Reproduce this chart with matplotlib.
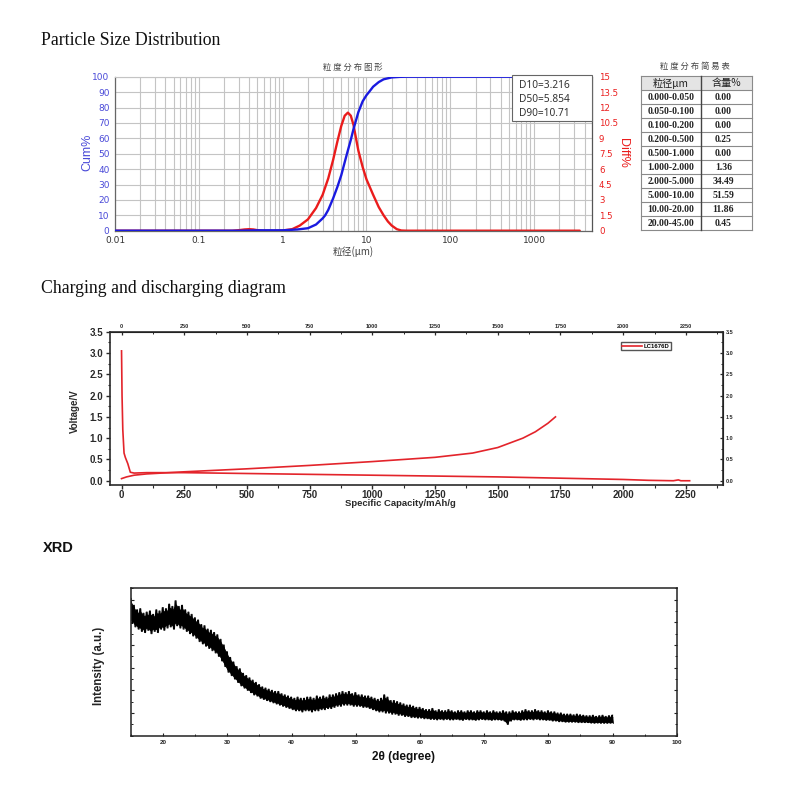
import numpy as np
import matplotlib
matplotlib.use('Agg')
import matplotlib.pyplot as plt
from matplotlib.patches import Rectangle
from matplotlib.ticker import LogLocator, MultipleLocator, NullFormatter

CJK = ['Noto Sans CJK SC', 'DejaVu Sans']
SERIF = 'Liberation Serif'
SANS = 'Liberation Sans'

# ---------------- Particle size distribution data ----------------
cum_size = [0.01, 0.1, 0.3, 0.5, 1.0, 1.5, 2.0, 2.5, 3.0, 3.216, 3.5, 4.0, 4.5, 5.0,
            5.5, 5.854, 6.5, 7.0, 8.0, 9.0, 10.0, 10.71, 12.0, 14.0, 16.0, 20.0,
            25.0, 30.0, 100.0, 3500.0]
cum_pct = [0.0, 0.0, 0.0, 0.25, 0.25, 0.8, 1.6, 4.0, 8.0, 10.0, 13.5, 21.0, 28.5, 36.0,
           44.5, 50.0, 59.0, 66.0, 77.0, 84.0, 88.0, 90.0, 93.5, 96.5, 98.3, 99.55,
           99.9, 100.0, 100.0, 100.0]
diff_size = [0.01, 0.1, 0.25, 0.3, 0.35, 0.4, 0.45, 0.5, 0.6, 0.8, 1.0, 1.3, 1.6, 2.0,
             2.5, 3.0, 3.5, 4.0, 4.5, 5.0, 5.5, 6.0, 6.5, 7.0, 7.5, 8.0, 9.0, 10.0,
             12.0, 14.0, 16.0, 18.0, 20.0, 23.0, 26.0, 30.0, 100.0, 3500.0]
diff_pct = [0.0, 0.0, 0.0, 0.05, 0.12, 0.15, 0.12, 0.05, 0.0, 0.0, 0.02, 0.15, 0.5, 1.1,
            2.2, 3.5, 5.1, 6.9, 8.7, 10.2, 11.2, 11.5, 11.2, 10.3, 9.0, 7.8, 6.2, 5.0,
            3.5, 2.3, 1.5, 0.9, 0.5, 0.15, 0.02, 0.0, 0.0, 0.0]
psd_xticks = [0.01, 0.1, 1, 10, 100, 1000]
psd_xticklabels = ['0.01', '0.1', '1', '10', '100', '1000']
d_stats = ['D10=3.216', 'D50=5.854', 'D90=10.71']
table_header = ['粒径μm', '含量%']
table_ranges = ['0.000-0.050', '0.050-0.100', '0.100-0.200', '0.200-0.500', '0.500-1.000',
                '1.000-2.000', '2.000-5.000', '5.000-10.00', '10.00-20.00', '20.00-45.00']
table_content = ['0.00', '0.00', '0.00', '0.25', '0.00', '1.36', '34.49', '51.59', '11.86', '0.45']

# ---------------- Charge / discharge data ----------------
chg_cap = [0, 20, 50, 100, 250, 500, 750, 1000, 1250, 1400, 1500, 1600, 1650, 1700, 1730]
chg_v = [0.05, 0.09, 0.13, 0.16, 0.21, 0.28, 0.36, 0.45, 0.55, 0.65, 0.78, 1.0, 1.15, 1.35, 1.5]
dis_cap = [0, 2, 5, 10, 15, 25, 35, 50, 100, 250, 500, 750, 1000, 1250, 1500, 1750, 2000,
           2100, 2200, 2220, 2230, 2265]
dis_v = [3.05, 2.0, 1.2, 0.65, 0.55, 0.4, 0.2, 0.18, 0.19, 0.19, 0.17, 0.15, 0.13, 0.11,
         0.09, 0.06, 0.03, 0.01, 0.0, 0.02, 0.0, 0.0]
cell_name = 'LC1676D'

# ---------------- XRD data (noise band extremes, 15-90 deg, 0.5 deg step) ----------------
xrd_start, xrd_stop, xrd_step = 15.0, 90.0, 0.5
xrd_lower = [4.95, 4.80, 4.70, 4.60, 4.55, 4.65, 4.50, 4.60, 4.55, 4.70,
             4.65, 4.75, 4.80, 4.70, 4.85, 4.75, 4.70, 4.60, 4.50, 4.40,
             4.30, 4.15, 4.05, 3.95, 3.85, 3.75, 3.65, 3.50, 3.30, 3.05,
             2.80, 2.65, 2.50, 2.35, 2.20, 2.10, 2.00, 1.90, 1.80, 1.75,
             1.65, 1.60, 1.55, 1.50, 1.45, 1.40, 1.35, 1.30, 1.25, 1.20,
             1.15, 1.10, 1.10, 1.05, 1.10, 1.10, 1.05, 1.10, 1.10, 1.15,
             1.15, 1.20, 1.20, 1.25, 1.30, 1.30, 1.35, 1.35, 1.35, 1.30,
             1.30, 1.30, 1.25, 1.25, 1.20, 1.15, 1.10, 1.05, 1.05, 1.00,
             1.00, 0.95, 0.95, 0.90, 0.90, 0.85, 0.85, 0.80, 0.80, 0.78,
             0.78, 0.75, 0.75, 0.72, 0.72, 0.70, 0.72, 0.70, 0.72, 0.70,
             0.70, 0.72, 0.70, 0.68, 0.72, 0.70, 0.70, 0.68, 0.70, 0.72,
             0.70, 0.70, 0.68, 0.70, 0.70, 0.68, 0.65, 0.50, 0.65, 0.70,
             0.70, 0.68, 0.70, 0.70, 0.72, 0.70, 0.72, 0.70, 0.70, 0.68,
             0.68, 0.65, 0.65, 0.62, 0.62, 0.60, 0.60, 0.60, 0.60, 0.58,
             0.58, 0.58, 0.58, 0.56, 0.55, 0.56, 0.55, 0.55, 0.55, 0.55,
             0.55]
xrd_upper = [6.05, 5.75, 5.55, 5.60, 5.40, 5.45, 5.50, 5.35, 5.55, 5.50,
             5.65, 5.60, 5.80, 5.70, 5.95, 5.70, 5.75, 5.55, 5.45, 5.35,
             5.20, 5.10, 4.90, 4.85, 4.70, 4.65, 4.55, 4.45, 4.25, 4.00,
             3.70, 3.45, 3.25, 3.05, 2.95, 2.75, 2.65, 2.55, 2.45, 2.35,
             2.25, 2.15, 2.10, 2.05, 2.00, 1.95, 1.95, 1.85, 1.80, 1.75,
             1.70, 1.65, 1.70, 1.65, 1.65, 1.70, 1.70, 1.65, 1.75, 1.70,
             1.75, 1.70, 1.80, 1.80, 1.85, 1.90, 1.95, 1.90, 1.95, 1.85,
             1.90, 1.80, 1.80, 1.75, 1.75, 1.70, 1.65, 1.60, 1.65, 1.80,
             1.70, 1.55, 1.55, 1.50, 1.45, 1.40, 1.35, 1.35, 1.30, 1.25,
             1.25, 1.20, 1.15, 1.15, 1.20, 1.10, 1.15, 1.10, 1.10, 1.15,
             1.10, 1.05, 1.10, 1.10, 1.05, 1.10, 1.10, 1.05, 1.10, 1.10,
             1.05, 1.10, 1.05, 1.10, 1.05, 1.05, 1.10, 1.05, 1.05, 1.10,
             1.05, 1.05, 1.10, 1.15, 1.10, 1.10, 1.15, 1.10, 1.10, 1.05,
             1.10, 1.05, 1.05, 1.00, 1.00, 0.95, 0.95, 0.95, 0.92, 0.95,
             0.92, 0.90, 0.88, 0.88, 0.90, 0.85, 0.88, 0.90, 0.85, 0.88,
             0.90]
xrd_xticks = [20, 30, 40, 50, 60, 70, 80, 90, 100]

xrd_theta = np.arange(xrd_start, xrd_stop + xrd_step / 2, xrd_step)
assert len(xrd_theta) == len(xrd_lower) == len(xrd_upper)
lo = np.asarray(xrd_lower)
hi = np.asarray(xrd_upper)
# trace alternates between the read maxima and minima of the noise
xrd_x = np.empty(2 * len(xrd_theta) - 1)
xrd_y = np.empty(2 * len(xrd_theta) - 1)
xrd_x[0::2] = xrd_theta
xrd_y[0::2] = hi
xrd_x[1::2] = xrd_theta[:-1] + xrd_step / 2
xrd_y[1::2] = lo[:-1]
xrd_x2 = xrd_x + xrd_step / 4
xrd_y2 = np.empty_like(xrd_y)
xrd_y2[0::2] = lo
xrd_y2[1::2] = hi[1:]

# ---------------- figure ----------------
W = H = 800
fig = plt.figure(figsize=(8, 8), dpi=100)
fig.patch.set_facecolor('white')


def px_axes(l, t, r, b, **kw):
    return fig.add_axes([l / W, 1 - b / H, (r - l) / W, (b - t) / H], **kw)


# overlay for free text (pixel coordinates)
ov = fig.add_axes([0, 0, 1, 1], zorder=10)
ov.set_xlim(0, W)
ov.set_ylim(H, 0)
ov.axis('off')

# ================= Panel 1 : PSD =================
BLUE = '#1a1ae0'
RED = '#ea1c1c'
TICKBLUE = '#4a4ad8'
ov.text(40.7, 45, 'Particle Size Distribution', family=SERIF, fontsize=12.8,
        va='baseline', ha='left', color='#111111')

ax = px_axes(115, 76.7, 592, 230.7)
ax2 = ax.twinx()
ax.set_xscale('log')
ax.set_xlim(0.01, 4900)
ax.set_ylim(0, 100)
ax2.set_ylim(0, 15)
ax.xaxis.set_minor_locator(LogLocator(base=10, subs=np.arange(2, 10), numticks=100))
ax.xaxis.set_minor_formatter(NullFormatter())
ax.set_xticks(psd_xticks, labels=psd_xticklabels)
ax.set_yticks(np.arange(0, 101, 10))
ax.grid(True, which='both', axis='x', color='#c4c4c4', lw=0.8)
ax.grid(True, which='major', axis='y', color='#c4c4c4', lw=0.8)
ax.tick_params(which='both', length=0)
ax.tick_params(axis='x', labelsize=6.5, labelcolor='#333333', pad=4)
ax.tick_params(axis='y', labelsize=6.5, labelcolor=TICKBLUE, pad=4)
for s in ['left', 'bottom']:
    ax.spines[s].set_color('#666666')
    ax.spines[s].set_linewidth(0.9)
ax.spines['top'].set_color('#c4c4c4')
ax.spines['right'].set_visible(False)
# differential curve uses the right-hand (Diff%) scale, cumulative drawn on top
ax.plot(diff_size, diff_pct, color=RED, lw=1.7, zorder=2, solid_capstyle='round',
        transform=ax2.transData)
ax.plot(cum_size, cum_pct, color=BLUE, lw=1.7, zorder=3, solid_capstyle='round')

ax2.set_yticks(np.arange(0, 15.01, 1.5))
ax2.set_yticklabels(['0', '1.5', '3', '4.5', '6', '7.5', '9', '10.5', '12', '13.5', '15'])
ax2.tick_params(axis='y', length=0, labelsize=6.2, labelcolor=RED, pad=5)
for s in ['left', 'top', 'bottom']:
    ax2.spines[s].set_visible(False)
ax2.spines['right'].set_color('#555555')
ax2.spines['right'].set_linewidth(0.9)

ov.text(353, 67.7, ' '.join('粒度分布图形'), family=CJK, fontsize=6, ha='center',
        va='center', color='#444444')
ov.text(353, 251.7, '粒径(μm)', family=CJK, fontsize=7, ha='center', va='center',
        color='#444444')
ov.text(87.5, 152.7, 'Cum%', family=SANS, fontsize=9, ha='center', va='center',
        rotation=90, color=TICKBLUE)
ov.text(623, 153, 'Diff%', family=SANS, fontsize=9, ha='center', va='center',
        rotation=270, color=RED)

# statistics box
ov.add_patch(Rectangle((512, 75), 80, 46, fc='white', ec='#666666', lw=0.8, zorder=5))
for i, s in enumerate(d_stats):
    ov.text(519, 85.5 + i * 14, s, family='Noto Sans', fontsize=7.3, ha='left',
            va='center', color='#333333', zorder=6)

# table
tx0, tx1, txm = 641, 752, 700.7
ty0, rh = 76, 14
ov.text(695, 66, ' '.join('粒度分布简易表'), family=CJK, fontsize=6, ha='center',
        va='center', color='#444444')
nrows = len(table_ranges) + 1
ov.add_patch(Rectangle((tx0, ty0), tx1 - tx0, rh, fc='#e4e4e4', ec='none', zorder=1))
for r in range(nrows + 1):
    ov.plot([tx0, tx1], [ty0 + r * rh] * 2, color='#8a8a8a', lw=0.8, zorder=2)
ov.plot([tx0, tx0], [ty0, ty0 + nrows * rh], color='#8a8a8a', lw=0.8, zorder=2)
ov.plot([tx1, tx1], [ty0, ty0 + nrows * rh], color='#8a8a8a', lw=0.8, zorder=2)
ov.plot([txm, txm], [ty0, ty0 + nrows * rh], color='#444444', lw=1.0, zorder=2)
ov.text((tx0 + txm) / 2, ty0 + rh / 2, table_header[0], family=CJK, fontsize=7.3,
        ha='center', va='center', color='#222222')
ov.text((txm + tx1) / 2, ty0 + rh / 2, table_header[1], family=CJK, fontsize=7.3,
        ha='center', va='center', color='#222222')
for i, (rg, ct) in enumerate(zip(table_ranges, table_content)):
    yc = ty0 + rh * (i + 1.5)
    ov.text((tx0 + txm) / 2, yc, rg, family=SERIF, fontweight='bold', fontsize=7,
            ha='center', va='center', color='#222222')
    ov.text((txm + tx1) / 2 - 3, yc, ct, family=SERIF, fontweight='bold', fontsize=7,
            ha='center', va='center', color='#222222')

# ================= Panel 2 : charge / discharge =================
CRED = '#e3242b'
DARK = '#2a2a2a'
ov.text(40.7, 293.3, 'Charging and discharging diagram', family=SERIF, fontsize=12.8,
        va='baseline', ha='left', color='#111111')
axc = px_axes(109.5, 331.7, 723, 485)
axc.set_xlim(-48, 2398)
axc.set_ylim(-0.1, 3.5)
axc.plot(dis_cap, dis_v, color=CRED, lw=1.2, label=cell_name)
axc.plot(chg_cap, chg_v, color=CRED, lw=1.2)
axc.xaxis.set_minor_locator(MultipleLocator(125))
axc.yaxis.set_minor_locator(MultipleLocator(0.25))
axc.set_xticks(np.arange(0, 2251, 250))
axc.set_yticks(np.arange(0, 3.51, 0.5))
axc.set_yticklabels([f'{v:.1f}' for v in np.arange(0, 3.51, 0.5)])
axc.tick_params(which='major', direction='out', length=3, width=1.0, color=DARK,
                labelsize=7, pad=1.5)
axc.tick_params(which='minor', direction='out', length=1.8, width=0.8, color=DARK)
axc.tick_params(axis='x', pad=0.5)
for lab in axc.get_xticklabels() + axc.get_yticklabels():
    lab.set_fontfamily(SANS)
    lab.set_fontweight('bold')
    lab.set_color(DARK)
for s in axc.spines.values():
    s.set_color(DARK)
    s.set_linewidth(1.2)
sx = axc.secondary_xaxis('top')
sx.set_xticks(np.arange(0, 2251, 250))
sx.xaxis.set_minor_locator(MultipleLocator(125))
sx.tick_params(which='major', direction='in', length=2.5, width=0.9, labelsize=4,
               pad=2, colors=DARK)
sx.tick_params(which='minor', direction='in', length=1.5, width=0.7, colors=DARK)
for lab in sx.get_xticklabels():
    lab.set_fontfamily(SANS)
    lab.set_fontweight('bold')
sy = axc.secondary_yaxis('right')
sy.set_yticks(np.arange(0, 3.51, 0.5))
sy.set_yticklabels([f'{v:.1f}' for v in np.arange(0, 3.51, 0.5)])
sy.yaxis.set_minor_locator(MultipleLocator(0.25))
sy.tick_params(which='major', direction='in', length=2.5, width=0.9, labelsize=4,
               pad=2, colors=DARK)
sy.tick_params(which='minor', direction='in', length=1.5, width=0.7, colors=DARK)
for lab in sy.get_yticklabels():
    lab.set_fontfamily(SANS)
    lab.set_fontweight('bold')
leg = axc.legend(loc='upper left',
                 bbox_to_anchor=((620.7 - 109.5) / 613.5, (485 - 341.7) / 153.3),
                 prop={'family': SANS, 'weight': 'bold', 'size': 4.3},
                 frameon=True, fancybox=False, edgecolor=DARK, borderpad=0.3,
                 handlelength=3.2, handletextpad=0.3, borderaxespad=0)
leg.get_frame().set_linewidth(1.0)
ov.text(400, 503.5, 'Specific Capacity/mAh/g', family=SANS, fontweight='bold',
        fontsize=6.8, ha='center', va='center', color=DARK)
ov.text(74.5, 410.8, 'Voltage/V', family=SANS, fontweight='bold', fontsize=7,
        ha='center', va='center', rotation=90, color=DARK)

# ================= Panel 3 : XRD =================
ov.text(43, 551.7, 'XRD', family=SANS, fontweight='bold', fontsize=10.5,
        va='baseline', ha='left', color='#111111')
axx = px_axes(131, 588.3, 676.7, 735.7)
axx.set_xlim(15, 100)
axx.set_ylim(0, 6.5)
axx.fill_between(xrd_theta, lo + 0.15 * (hi - lo), hi - 0.15 * (hi - lo),
                 color='black', lw=0.6)
axx.plot(xrd_x, xrd_y, color='black', lw=0.9)
axx.plot(xrd_x2, xrd_y2, color='black', lw=0.8)
axx.set_xticks(xrd_xticks)
axx.xaxis.set_minor_locator(MultipleLocator(5))
axx.set_yticks(np.arange(1, 6.01, 1))
axx.yaxis.set_minor_locator(MultipleLocator(0.5))
axx.set_yticklabels([])
axx.tick_params(which='major', direction='in', length=2.5, width=0.8, colors='#222222',
                labelsize=4.5, pad=3, right=True)
axx.tick_params(which='minor', direction='in', length=1.5, width=0.6, right=True)
for lab in axx.get_xticklabels():
    lab.set_fontfamily(SANS)
    lab.set_fontweight('bold')
for s in axx.spines.values():
    s.set_color('#222222')
    s.set_linewidth(1.1)
ov.text(403, 757, '2θ (degree)', family=SANS, fontweight='bold', fontsize=8.5,
        ha='center', va='center', color='#111111')
ov.text(99, 666, 'Intensity (a.u.)', family=SANS, fontweight='bold', fontsize=8.3,
        ha='center', va='center', rotation=90, color='#222222')

fig.savefig('out.png', dpi=100, facecolor='white')
